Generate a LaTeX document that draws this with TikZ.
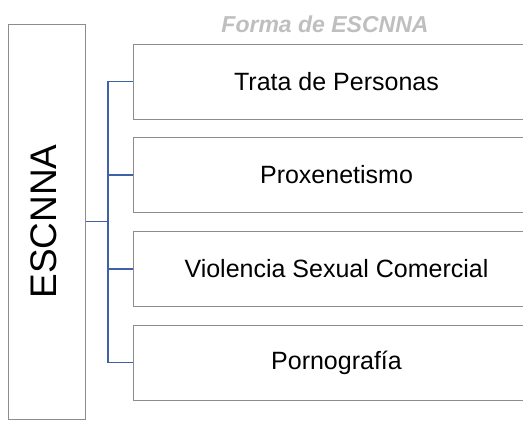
\documentclass[tikz,border=0pt]{standalone}
\usepackage{fontspec}
\setmainfont{Liberation Sans}
\definecolor{boxgray}{HTML}{8C8C8C}
\definecolor{connblue}{HTML}{4060A8}
\definecolor{titlegray}{HTML}{BFBFBF}
\begin{document}
\begin{tikzpicture}[x=1pt,y=-1pt,
  mainbox/.style={draw=boxgray,line width=1pt,minimum width=77pt,minimum height=395pt,inner sep=0pt},
  itembox/.style={draw=boxgray,line width=1pt,minimum width=407pt,minimum height=75pt,inner sep=0pt,font=\fontsize{25}{30}\selectfont},
  conn/.style={draw=connblue,line width=1.3pt}]
\clip (0,0) rectangle (523,421);
\fill[white] (0,0) rectangle (523,421);
\node[mainbox] (L) at (46.5,221.5) {};
\node[rotate=90,font=\fontsize{37}{44}\selectfont] (Lt) at (44,221.5) {ESCNNA};
\node[itembox] (b1) at (336.5,81.5) {Trata de Personas};
\node[itembox] (b2) at (336.5,175) {Proxenetismo};
\node[itembox] (b3) at (336.5,269) {Violencia Sexual Comercial};
\node[itembox] (b4) at (336.5,362.5) {Pornografía};
\node[text=titlegray,font=\fontsize{23}{28}\selectfont\bfseries\itshape] (title) at (325,24) {Forma de ESCNNA};
\coordinate (j) at (108,221.5);
\draw[conn] (L.east) -- (j);
\draw[conn] (j) |- (b1.west);
\draw[conn] (j) |- (b2.west);
\draw[conn] (j) |- (b3.west);
\draw[conn] (j) |- (b4.west);
\end{tikzpicture}
\end{document}
